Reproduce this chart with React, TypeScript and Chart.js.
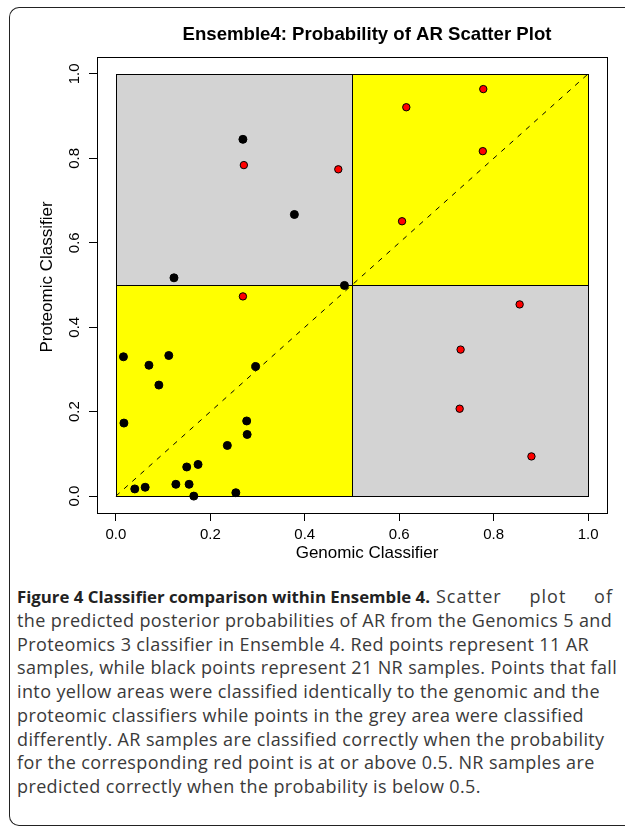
import React, { useEffect, useRef } from "react";
import { Chart, registerables } from "chart.js";

Chart.register(...registerables);

// ---- Data ----
const arGenomic = [0.271, 0.471, 0.269, 0.778, 0.615, 0.777, 0.606, 0.855, 0.730, 0.728, 0.880];
const arProteomic = [0.784, 0.774, 0.473, 0.964, 0.921, 0.817, 0.651, 0.454, 0.347, 0.207, 0.094];

const nrGenomic = [0.269, 0.378, 0.123, 0.484, 0.016, 0.070, 0.112, 0.091, 0.296, 0.017, 0.277, 0.278, 0.236, 0.150, 0.174, 0.127, 0.155, 0.040, 0.062, 0.165, 0.254];
const nrProteomic = [0.845, 0.667, 0.517, 0.499, 0.330, 0.310, 0.333, 0.263, 0.307, 0.173, 0.178, 0.146, 0.120, 0.069, 0.075, 0.028, 0.028, 0.017, 0.021, 0.000, 0.008];

const diagonal = [0, 1];
const threshold = 0.5;
const axisRange = [0, 1];
const tickValues = [0, 0.2, 0.4, 0.6, 0.8, 1.0];

const titleText = "Ensemble4: Probability of AR Scatter Plot";
const xTitle = "Genomic Classifier";
const yTitle = "Proteomic Classifier";

const captionBold = "Figure 4 Classifier comparison within Ensemble 4.";
const captionLines = [
  "Scatter plot of",
  "the predicted posterior probabilities of AR from the Genomics 5 and",
  "Proteomics 3 classifier in Ensemble 4. Red points represent 11 AR",
  "samples, while black points represent 21 NR samples. Points that fall",
  "into yellow areas were classified identically to the genomic and the",
  "proteomic classifiers while points in the grey area were classified",
  "differently. AR samples are classified correctly when the probability",
  "for the corresponding red point is at or above 0.5. NR samples are",
  "predicted correctly when the probability is below 0.5.",
];

const SAME_COLOR = "#ffff00";
const DIFF_COLOR = "#d3d3d3";
const FONT = '"Liberation Sans", Arial, Helvetica, sans-serif';

const quadrantPlugin = {
  id: "quadrants",
  beforeDatasetsDraw(chart: any) {
    const { ctx, scales, chartArea } = chart;
    const xs = scales.x;
    const ys = scales.y;
    const [lo, hi] = axisRange;
    const quads = [
      [lo, threshold, threshold, hi, DIFF_COLOR],
      [threshold, hi, threshold, hi, SAME_COLOR],
      [lo, threshold, lo, threshold, SAME_COLOR],
      [threshold, hi, lo, threshold, DIFF_COLOR],
    ] as const;
    ctx.save();
    for (const q of quads) {
      const x0 = Math.round(xs.getPixelForValue(q[0]));
      const x1 = Math.round(xs.getPixelForValue(q[1]));
      const y0 = Math.round(ys.getPixelForValue(q[3]));
      const y1 = Math.round(ys.getPixelForValue(q[2]));
      ctx.fillStyle = q[4];
      ctx.fillRect(x0, y0, x1 - x0, y1 - y0);
      ctx.strokeStyle = "#000";
      ctx.lineWidth = 1;
      ctx.strokeRect(x0 + 0.5, y0 + 0.5, x1 - x0, y1 - y0);
    }
    // axes box
    const l = Math.round(chartArea.left) + 0.5;
    const t = Math.round(chartArea.top) + 0.5;
    const r = Math.round(chartArea.right) + 0.5;
    const b = Math.round(chartArea.bottom) + 0.5;
    ctx.strokeRect(l, t, r - l, b - t);
    ctx.restore();
  },
  afterDraw(chart: any) {
    const { ctx } = chart;
    ctx.save();
    ctx.fillStyle = "#000";
    ctx.textAlign = "center";
    ctx.textBaseline = "alphabetic";
    ctx.font = `bold 18.6px ${FONT}`;
    ctx.fillText(titleText, 367, 40);
    ctx.font = `17px ${FONT}`;
    ctx.fillText(xTitle, 367, 558);
    ctx.translate(52, 277);
    ctx.rotate(-Math.PI / 2);
    ctx.fillText(yTitle, 0, 0);
    ctx.restore();
  },
};

export default function App() {
  const ref = useRef<HTMLCanvasElement>(null);

  useEffect(() => {
    if (!ref.current) return;
    const tickFont = { family: FONT, size: 15 };
    const chart = new Chart(ref.current, {
      type: "scatter",
      data: {
        datasets: [
          {
            label: "AR",
            data: arGenomic.map((g, i) => ({ x: g, y: arProteomic[i] })),
            backgroundColor: "#ff0000",
            borderColor: "#000000",
            borderWidth: 1,
            pointRadius: 3.7,
          },
          {
            label: "NR",
            data: nrGenomic.map((g, i) => ({ x: g, y: nrProteomic[i] })),
            backgroundColor: "#000000",
            borderColor: "#000000",
            borderWidth: 1,
            pointRadius: 4,
          },
          {
            type: "line",
            label: "diag",
            data: diagonal.map((v) => ({ x: v, y: v })),
            borderColor: "#000000",
            borderWidth: 1,
            borderDash: [5, 6],
            pointRadius: 0,
            fill: false,
          } as any,
        ],
      },
      options: {
        animation: false,
        responsive: false,
        layout: { padding: { left: 0, top: 57, right: 18, bottom: 0 } },
        plugins: {
          legend: { display: false },
          tooltip: { enabled: false },
          title: { display: false },
        },
        scales: {
          x: {
            type: "linear",
            position: "bottom",
            min: -0.04,
            max: 1.04,
            afterBuildTicks: (s: any) => {
              s.ticks = tickValues.map((v) => ({ value: v }));
            },
            afterFit: (s: any) => {
              s.height = 62;
              s.paddingLeft = 0;
              s.paddingRight = 0;
            },
            grid: { display: true, drawOnChartArea: false, drawTicks: true, tickLength: 8, color: "#000", lineWidth: 1 },
            border: { display: false },
            ticks: {
              color: "#000",
              font: tickFont,
              padding: 5,
              maxRotation: 0,
              autoSkip: false,
              callback: (v: any) => Number(v).toFixed(1),
            },
          },
          y: {
            type: "linear",
            position: "left",
            min: -0.04,
            max: 1.04,
            afterBuildTicks: (s: any) => {
              s.ticks = tickValues.map((v) => ({ value: v }));
            },
            afterFit: (s: any) => {
              s.width = 97;
              s.paddingTop = 0;
              s.paddingBottom = 0;
            },
            grid: { display: true, drawOnChartArea: false, drawTicks: true, tickLength: 8, color: "#000", lineWidth: 1 },
            border: { display: false },
            ticks: {
              color: "#000",
              font: tickFont,
              padding: 4,
              minRotation: 90,
              maxRotation: 90,
              crossAlign: "center",
              autoSkip: false,
              callback: (v: any) => Number(v).toFixed(1),
            },
          },
        },
      } as any,
      plugins: [quadrantPlugin],
    });
    return () => chart.destroy();
  }, []);

  return (
    <div>
      <div
        style={{
          position: "absolute",
          left: 9,
          top: 7,
          width: 616,
          height: 819,
          boxSizing: "border-box",
          border: "1.5px solid #222",
          borderRight: "none",
          borderRadius: "10px 0 0 10px",
        }}
      />
      <canvas
        ref={ref}
        width={625}
        height={575}
        style={{ position: "absolute", left: 0, top: 0, width: 625, height: 575 }}
      />
      <div
        style={{
          position: "absolute",
          left: 17,
          top: 585,
          fontFamily: '"Open Sans", sans-serif',
          fontSize: 18,
          letterSpacing: "0.38px",
          lineHeight: "23.75px",
          color: "#3a3a3a",
          whiteSpace: "pre",
        }}
      >
        <div style={{ display: "flex", alignItems: "baseline", width: 596 }}>
          <span style={{ fontWeight: 700, color: "#222", fontSize: 16.8, letterSpacing: 0 }}>{captionBold}</span>
          <span
            style={{
              flex: 1,
              marginLeft: 6,
              letterSpacing: "1px",
              whiteSpace: "nowrap",
              textAlign: "justify",
              textAlignLast: "justify",
            }}
          >
            {captionLines[0]}
          </span>
        </div>
        {captionLines.slice(1).map((line, i) => (
          <div key={i}>{line}</div>
        ))}
      </div>
    </div>
  );
}
